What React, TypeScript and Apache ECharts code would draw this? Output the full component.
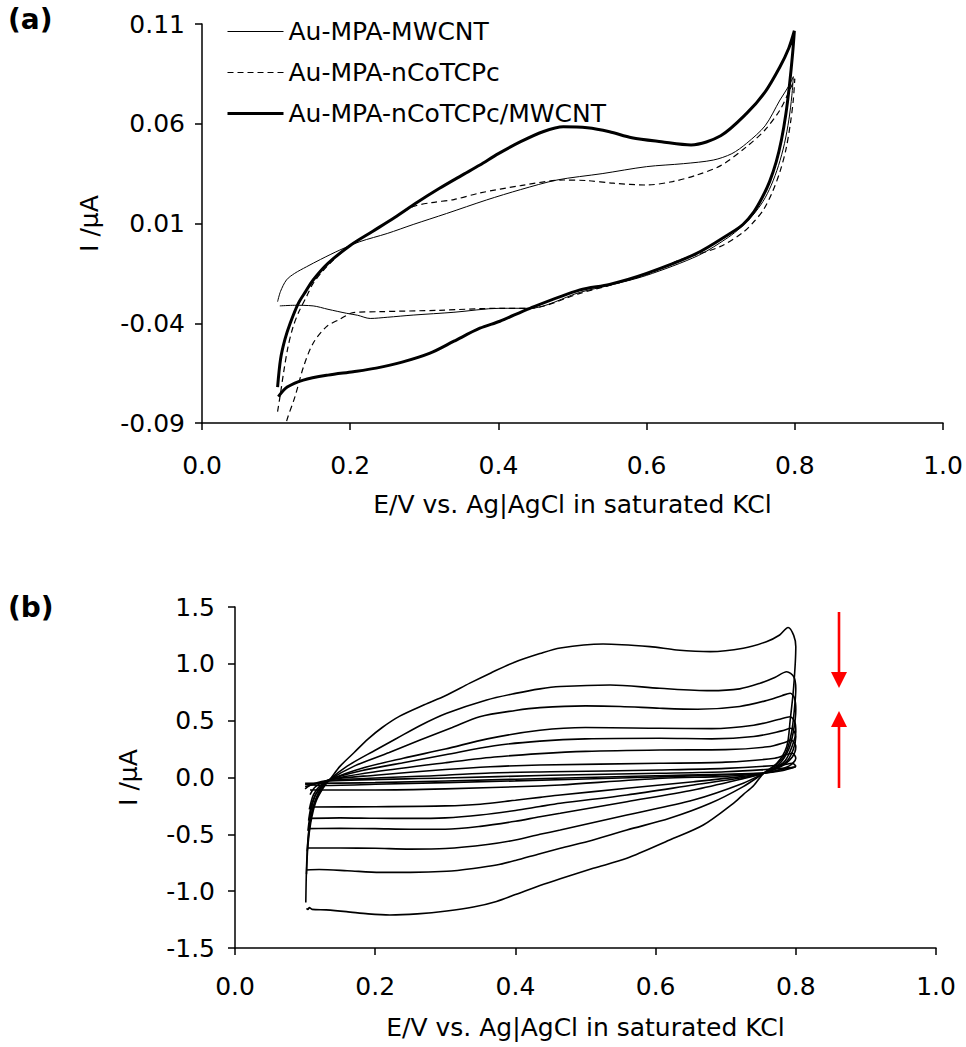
import React, { useEffect, useRef } from "react";
import * as echarts from "echarts";

type Pt = [number, number];

// ---------- Panel (a) ----------
const nameA1 = "Au-MPA-MWCNT";
const nameA2 = "Au-MPA-nCoTCPc";
const nameA3 = "Au-MPA-nCoTCPc/MWCNT";

const auMpaMwcnt: Pt[] = [
  [0.102, -0.0292], [0.106, -0.024], [0.114, -0.0183], [0.125, -0.015], [0.141, -0.0117],
  [0.16, -0.008], [0.186, -0.0033], [0.213, 0.0009], [0.25, 0.005], [0.285, 0.0095],
  [0.33, 0.015], [0.384, 0.0218], [0.43, 0.027], [0.479, 0.0318], [0.54, 0.035],
  [0.6, 0.0385], [0.65, 0.04], [0.69, 0.0418], [0.715, 0.045], [0.735, 0.0502],
  [0.76, 0.059], [0.78, 0.0719], [0.792, 0.079], [0.798, 0.0836],
  [0.796, 0.074], [0.792, 0.062], [0.786, 0.05], [0.778, 0.039], [0.768, 0.029],
  [0.757, 0.021], [0.743, 0.014], [0.727, 0.008], [0.71, 0.003], [0.67, -0.006],
  [0.6, -0.016], [0.55, -0.021], [0.51, -0.0245], [0.4426, -0.0325], [0.402, -0.0325],
  [0.34, -0.0345], [0.285, -0.0359], [0.25, -0.037], [0.227, -0.0376], [0.21, -0.036],
  [0.195, -0.035], [0.17, -0.033], [0.15, -0.0313], [0.125, -0.031], [0.105, -0.0313],
];

const auMpaNCoTCPc: Pt[] = [
  [0.102, -0.0843], [0.106, -0.075], [0.11, -0.065], [0.116, -0.052], [0.123, -0.0417],
  [0.131, -0.034], [0.141, -0.0267], [0.15, -0.02], [0.17, -0.011], [0.2, -0.001],
  [0.23, 0.006], [0.26, 0.013], [0.285, 0.0185], [0.31, 0.0205], [0.34, 0.022],
  [0.375, 0.0253], [0.43, 0.029], [0.4876, 0.0318], [0.52, 0.0315], [0.555, 0.0302],
  [0.6, 0.0293], [0.635, 0.031], [0.6676, 0.0343], [0.7, 0.039], [0.735, 0.0485],
  [0.76, 0.057], [0.78, 0.0669], [0.792, 0.076], [0.8, 0.0826],
  [0.798, 0.072], [0.794, 0.06], [0.788, 0.047], [0.78, 0.036], [0.77, 0.026],
  [0.7576, 0.0168], [0.745, 0.011], [0.73, 0.0055], [0.699, -0.0016], [0.645, -0.0083],
  [0.6, -0.0155], [0.55, -0.021], [0.51, -0.025], [0.4426, -0.0325], [0.402, -0.0325],
  [0.32, -0.0335], [0.24, -0.0342], [0.204, -0.0347], [0.186, -0.038], [0.168, -0.0417],
  [0.15, -0.05], [0.137, -0.0618], [0.1255, -0.0768], [0.114, -0.0893], [0.112, -0.095],
];

const auMpaNCoTCPcMwcnt: Pt[] = [
  [0.102, -0.072], [0.106, -0.058], [0.112, -0.048], [0.119, -0.04], [0.13, -0.03],
  [0.14, -0.024], [0.15, -0.0183], [0.17, -0.01], [0.2, -0.001], [0.23, 0.006],
  [0.26, 0.013], [0.29, 0.0205], [0.32, 0.0275], [0.35, 0.034], [0.375, 0.0393],
  [0.4, 0.045], [0.43, 0.051], [0.46, 0.056], [0.4876, 0.0585], [0.52, 0.058],
  [0.55, 0.056], [0.58, 0.053], [0.62, 0.051], [0.66, 0.0494], [0.7, 0.054],
  [0.735, 0.0652], [0.76, 0.076], [0.78, 0.0886], [0.792, 0.098], [0.7994, 0.1066],
  [0.797, 0.095], [0.793, 0.08], [0.788, 0.065], [0.782, 0.052], [0.775, 0.041],
  [0.766, 0.031], [0.756, 0.023], [0.745, 0.016], [0.73, 0.0095], [0.7126, 0.005],
  [0.6676, -0.005], [0.6, -0.015], [0.55, -0.0205], [0.51, -0.0233], [0.4426, -0.0325],
  [0.402, -0.039], [0.375, -0.0425], [0.34, -0.049], [0.3077, -0.055], [0.27, -0.0595],
  [0.235, -0.0625], [0.204, -0.0643], [0.17, -0.066], [0.1367, -0.0685], [0.115, -0.072],
  [0.103, -0.0768],
];

// ---------- Panel (b) ----------
const scanB1: Pt[] = [
  [0.101, -1.1], [0.102, -0.8], [0.104, -0.55], [0.108, -0.35], [0.115, -0.2], [0.125, -0.09],
  [0.135, -0.02], [0.15, 0.1], [0.17, 0.22], [0.19, 0.34], [0.21, 0.44], [0.235, 0.54],
  [0.27, 0.64], [0.3, 0.72], [0.335, 0.83], [0.365, 0.92], [0.397, 1.01], [0.435, 1.09],
  [0.464, 1.14], [0.525, 1.174], [0.592, 1.151], [0.63, 1.122], [0.678, 1.107], [0.725, 1.137],
  [0.758, 1.195], [0.777, 1.254], [0.789, 1.32], [0.797, 1.25], [0.8, 1.15], [0.797, 0.8],
  [0.792, 0.506], [0.787, 0.271], [0.773, 0.125], [0.754, 0.037], [0.74, -0.07], [0.725, -0.15],
  [0.711, -0.227], [0.668, -0.418], [0.62, -0.55], [0.559, -0.711], [0.511, -0.799], [0.464, -0.89],
  [0.435, -0.95], [0.4, -1.03], [0.373, -1.09], [0.34, -1.14], [0.302, -1.175], [0.26, -1.2],
  [0.221, -1.21], [0.19, -1.2], [0.159, -1.18], [0.13, -1.165], [0.11, -1.16], [0.106, -1.145],
  [0.104, -1.16], [0.102, -1.151],
];
const scanB2: Pt[] = [
  [0.102, -0.85], [0.104, -0.6], [0.108, -0.4], [0.115, -0.22], [0.125, -0.1], [0.135, -0.02],
  [0.16, 0.1], [0.2, 0.24], [0.231, 0.345], [0.265, 0.46], [0.302, 0.565], [0.359, 0.682],
  [0.4, 0.74], [0.435, 0.78], [0.464, 0.8], [0.535, 0.814], [0.606, 0.785], [0.678, 0.764],
  [0.72, 0.78], [0.749, 0.829], [0.77, 0.88], [0.787, 0.931], [0.797, 0.887], [0.8, 0.78],
  [0.798, 0.6], [0.794, 0.4], [0.786, 0.22], [0.772, 0.11], [0.754, 0.037], [0.725, -0.08],
  [0.678, -0.227], [0.62, -0.359], [0.559, -0.462], [0.511, -0.55], [0.464, -0.623], [0.435, -0.67],
  [0.4, -0.73], [0.373, -0.77], [0.34, -0.8], [0.302, -0.825], [0.25, -0.835], [0.207, -0.835],
  [0.16, -0.82], [0.12, -0.81], [0.102, -0.814],
];
const scanB3: Pt[] = [
  [0.103, -0.65], [0.106, -0.45], [0.112, -0.25], [0.122, -0.1], [0.135, -0.02], [0.17, 0.1],
  [0.22, 0.22], [0.264, 0.33], [0.31, 0.44], [0.349, 0.535], [0.4, 0.59], [0.435, 0.615],
  [0.5, 0.63], [0.55, 0.625], [0.606, 0.609], [0.66, 0.6], [0.72, 0.625], [0.76, 0.68],
  [0.78, 0.72], [0.792, 0.741], [0.798, 0.7], [0.8, 0.6], [0.797, 0.42], [0.79, 0.25],
  [0.775, 0.11], [0.754, 0.037], [0.725, -0.05], [0.654, -0.198], [0.559, -0.33], [0.464, -0.462],
  [0.435, -0.5], [0.4, -0.55], [0.36, -0.59], [0.3, -0.625], [0.25, -0.63], [0.2, -0.623],
  [0.15, -0.62], [0.103, -0.62],
];
const scanB4: Pt[] = [
  [0.104, -0.47], [0.108, -0.3], [0.115, -0.15], [0.125, -0.07], [0.135, -0.02], [0.18, 0.08],
  [0.24, 0.17], [0.3, 0.25], [0.36, 0.34], [0.435, 0.415], [0.5, 0.44], [0.606, 0.433],
  [0.68, 0.43], [0.74, 0.46], [0.775, 0.51], [0.792, 0.535], [0.799, 0.48], [0.8, 0.4],
  [0.795, 0.28], [0.785, 0.15], [0.77, 0.08], [0.754, 0.037], [0.725, -0.01], [0.654, -0.11],
  [0.559, -0.213], [0.464, -0.315], [0.435, -0.345], [0.4, -0.385], [0.35, -0.43], [0.3, -0.455],
  [0.25, -0.455], [0.2, -0.45], [0.15, -0.447], [0.104, -0.45],
];
const scanB5: Pt[] = [
  [0.105, -0.38], [0.11, -0.22], [0.12, -0.1], [0.135, -0.02], [0.18, 0.06], [0.24, 0.13],
  [0.3, 0.2], [0.37, 0.28], [0.435, 0.32], [0.5, 0.34], [0.606, 0.345], [0.68, 0.34],
  [0.74, 0.36], [0.78, 0.41], [0.793, 0.433], [0.8, 0.36], [0.796, 0.24], [0.785, 0.13],
  [0.754, 0.037], [0.725, 0.0], [0.654, -0.066], [0.559, -0.154], [0.464, -0.227], [0.435, -0.255],
  [0.4, -0.29], [0.35, -0.33], [0.3, -0.355], [0.25, -0.36], [0.2, -0.359], [0.15, -0.355],
  [0.105, -0.36],
];
const scanB6: Pt[] = [
  [0.106, -0.28], [0.112, -0.15], [0.122, -0.07], [0.135, -0.02], [0.2, 0.05], [0.3, 0.13],
  [0.37, 0.18], [0.435, 0.21], [0.5, 0.23], [0.606, 0.242], [0.7, 0.245], [0.76, 0.27],
  [0.785, 0.31], [0.793, 0.33], [0.8, 0.27], [0.795, 0.18], [0.78, 0.1], [0.754, 0.037],
  [0.725, 0.01], [0.654, -0.037], [0.559, -0.095], [0.464, -0.154], [0.435, -0.175], [0.4, -0.2],
  [0.35, -0.235], [0.3, -0.25], [0.2, -0.257], [0.106, -0.26],
];
const scanB7: Pt[] = [
  [0.107, -0.15], [0.115, -0.08], [0.135, -0.02], [0.2, 0.02], [0.3, 0.07], [0.364, 0.095],
  [0.435, 0.11], [0.606, 0.125], [0.7, 0.135], [0.77, 0.17], [0.795, 0.213], [0.8, 0.17],
  [0.79, 0.1], [0.754, 0.037], [0.7, 0.01], [0.61, -0.007], [0.464, -0.066], [0.435, -0.075],
  [0.3, -0.1], [0.2, -0.11], [0.107, -0.11],
];
const scanB8: Pt[] = [
  [0.1, -0.1], [0.11, -0.06], [0.135, -0.025], [0.3, 0.02], [0.364, 0.04], [0.45, 0.05],
  [0.606, 0.066], [0.7, 0.08], [0.78, 0.11], [0.795, 0.125], [0.8, 0.1], [0.78, 0.07],
  [0.754, 0.037], [0.6, 0.005], [0.4, -0.03], [0.2, -0.06], [0.12, -0.07], [0.1, -0.06],
];
const scanB9: Pt[] = [
  [0.1, -0.08], [0.12, -0.05], [0.135, -0.03], [0.3, -0.005], [0.45, 0.02], [0.606, 0.037],
  [0.7, 0.05], [0.78, 0.08], [0.8, 0.095], [0.78, 0.06], [0.754, 0.04], [0.6, 0.015],
  [0.4, -0.015], [0.2, -0.045], [0.1, -0.05],
];
const scansB: Pt[][] = [scanB1, scanB2, scanB3, scanB4, scanB5, scanB6, scanB7, scanB8, scanB9];

// axis ranges / ticks
const xMin = 0, xMax = 1, xStep = 0.2;
const yAMin = -0.09, yAMax = 0.11, yAStep = 0.05;
const yBMin = -1.5, yBMax = 1.5, yBStep = 0.5;
const xTitle = "E/V vs. Ag|AgCl in saturated KCl";
const yTitle = "I /μA";

const FONT = "DejaVu Sans";
const INK = "#000";
const TICK_FS = 25;
const TEXT_FS = 25;

const styleA1 = { color: INK, width: 1 };
const styleA2 = { color: INK, width: 1.2, type: [6, 4] };
const styleA3 = { color: INK, width: 3 };

export default function App() {
  const ref = useRef<HTMLDivElement>(null);
  useEffect(() => {
    const chart = echarts.init(ref.current!, null, { renderer: "svg" });
    const axisCommon = {
      axisLine: { show: true, onZero: false, lineStyle: { color: INK, width: 1.5 } },
      axisTick: { show: true, inside: false, length: 7, lineStyle: { color: INK, width: 1.5 } },
      splitLine: { show: false },
      nameTextStyle: { fontFamily: FONT, fontSize: TEXT_FS, color: INK },
    };
    const lbl = (digits: number, margin: number) => ({
      fontFamily: FONT,
      fontSize: TICK_FS,
      color: INK,
      margin,
      formatter: (v: number) => v.toFixed(digits),
    });
    const bSeries = scansB.map((d, i) => ({
      name: "scan" + (i + 1),
      type: "line",
      xAxisIndex: 1,
      yAxisIndex: 1,
      data: d,
      showSymbol: false,
      symbol: "none",
      smooth: 0.3,
      color: INK,
      lineStyle: { color: INK, width: 1.6 },
      z: 2,
    }));
    chart.setOption({
      animation: false,
      backgroundColor: "#fff",
      textStyle: { fontFamily: FONT },
      grid: [
        { left: 202, top: 24, width: 741, height: 399 },
        { left: 235, top: 607, width: 701, height: 341 },
      ],
      legend: {
        data: [
          { name: nameA1, lineStyle: styleA1 },
          { name: nameA2, lineStyle: styleA2 },
          { name: nameA3, lineStyle: styleA3 },
        ],
        orient: "vertical",
        left: 221,
        top: 14,
        itemWidth: 56,
        itemHeight: 14,
        itemGap: 16,
        itemStyle: { opacity: 0 },
        textStyle: { fontFamily: FONT, fontSize: TEXT_FS, color: INK },
        selectedMode: false,
      },
      xAxis: [
        {
          ...axisCommon,
          gridIndex: 0,
          type: "value",
          min: xMin,
          max: xMax,
          interval: xStep,
          name: xTitle,
          nameLocation: "middle",
          nameGap: 69,
          axisLabel: lbl(1, 30),
        },
        {
          ...axisCommon,
          gridIndex: 1,
          type: "value",
          min: xMin,
          max: xMax,
          interval: xStep,
          name: xTitle,
          nameLocation: "middle",
          nameGap: 67,
          axisLabel: lbl(1, 26),
        },
      ],
      yAxis: [
        {
          ...axisCommon,
          gridIndex: 0,
          type: "value",
          min: yAMin,
          max: yAMax,
          interval: yAStep,
          name: yTitle,
          nameLocation: "middle",
          nameGap: 100,
          axisLabel: lbl(2, 17),
        },
        {
          ...axisCommon,
          gridIndex: 1,
          type: "value",
          min: yBMin,
          max: yBMax,
          interval: yBStep,
          name: yTitle,
          nameLocation: "middle",
          nameGap: 94,
          axisLabel: lbl(1, 20),
        },
      ],
      series: [
        {
          name: nameA1,
          type: "line",
          data: auMpaMwcnt,
          showSymbol: false,
          symbol: "none",
          smooth: 0.3,
          color: INK,
          lineStyle: styleA1,
        },
        {
          name: nameA2,
          type: "line",
          data: auMpaNCoTCPc,
          showSymbol: false,
          symbol: "none",
          smooth: 0.3,
          color: INK,
          lineStyle: styleA2,
        },
        {
          name: nameA3,
          type: "line",
          data: auMpaNCoTCPcMwcnt,
          showSymbol: false,
          symbol: "none",
          smooth: 0.3,
          color: INK,
          lineStyle: styleA3,
        },
        ...bSeries,
      ],
      graphic: [
        {
          type: "text",
          left: 8,
          top: 5,
          style: { text: "(a)", fontFamily: FONT, fontWeight: "bold", fontSize: 28, fill: INK },
        },
        {
          type: "text",
          left: 8,
          top: 593,
          style: { text: "(b)", fontFamily: FONT, fontWeight: "bold", fontSize: 28, fill: INK },
        },
        // red arrows (b)
        { type: "line", shape: { x1: 839, y1: 612, x2: 839, y2: 674 }, style: { stroke: "#ff0000", lineWidth: 2.6 } },
        { type: "polygon", shape: { points: [[831, 672], [847, 672], [839, 688]] }, style: { fill: "#ff0000" } },
        { type: "line", shape: { x1: 839, y1: 725, x2: 839, y2: 788 }, style: { stroke: "#ff0000", lineWidth: 2.6 } },
        { type: "polygon", shape: { points: [[831, 727], [847, 727], [839, 711]] }, style: { fill: "#ff0000" } },
      ],
    });
    return () => chart.dispose();
  }, []);
  return (
    <div
      ref={ref}
      style={{ position: "absolute", left: 0, top: 0, width: 966, height: 1047, background: "#fff" }}
    />
  );
}
